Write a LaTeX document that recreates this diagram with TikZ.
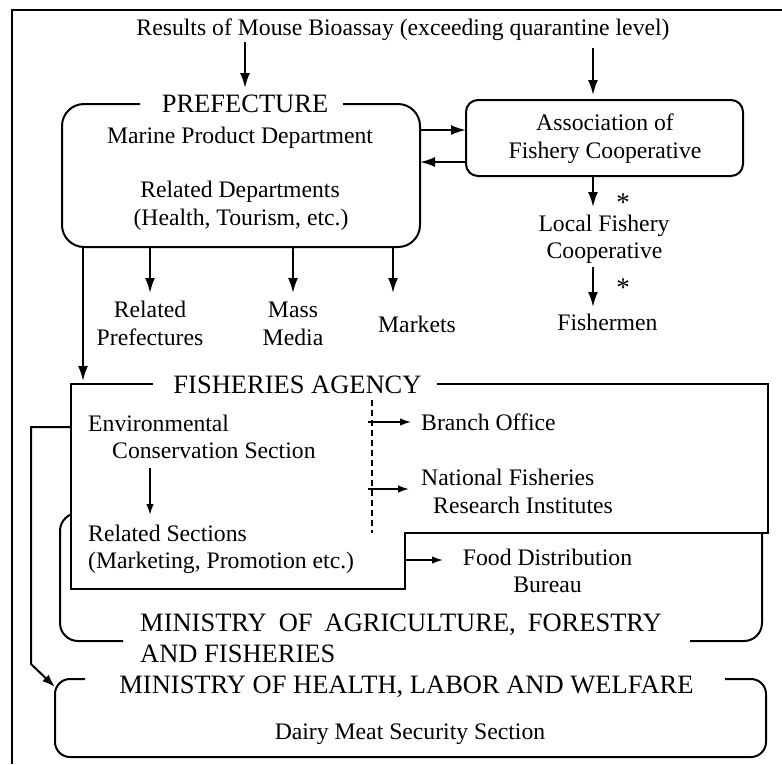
\documentclass[tikz,border=0pt]{standalone}
\usepackage{fontspec}
\setmainfont{Liberation Serif}
\usetikzlibrary{arrows.meta}
\begin{document}
\begin{tikzpicture}[x=1pt,y=-1pt,
  box/.style={line width=2pt},
  frameline/.style={line width=2.6pt},
  arr/.style={line width=2pt,-{Latex[length=15pt,width=10pt]}},
  arrsmall/.style={line width=1.6pt,-{Latex[length=11pt,width=7.5pt]}},
  txt/.style={inner sep=0pt,anchor=base,font=\fontsize{23.7}{28}\selectfont},
  txtl/.style={txt,anchor=base west},
  head/.style={inner sep=0pt,anchor=base,font=\fontsize{26.5}{30}\selectfont},
  headl/.style={head,anchor=base west},
  star/.style={inner sep=0pt,anchor=base,font=\fontsize{27}{30}\selectfont},
]
\useasboundingbox (0,0) rectangle (782,764);
\fill[white] (0,0) rectangle (782,764);

% outer frame
\draw[frameline] (782,10) -- (12,10) -- (12,764);

% source of the alert
\node[txt] (title) at (403,35) {Results of Mouse Bioassay (exceeding quarantine level)};

% prefecture
\draw[box,rounded corners=22pt] (140,104) -- (62,104) -- (62,247) -- (420,247) -- (420,104) -- (343,104);
\node[head] (pref) at (245,112) {PREFECTURE};
\node[txt] (marine) at (240,143) {Marine Product Department};
\node[txt] (reldep) at (240,197) {Related Departments};
\node[txt] (reldepb) at (241,225) {(Health, Tourism, etc.)};

% fishery cooperative association
\node[draw,box,rounded corners=12pt,minimum width=277pt,minimum height=76pt] (assoc) at (604.5,138) {};
\node[txt] (assoca) at (605,130) {Association of};
\node[txt] (assocb) at (605,158) {Fishery Cooperative};
\node[txt] (local) at (604,231) {Local Fishery};
\node[txt] (localb) at (604.5,258) {Cooperative};
\node[txt] (fishermen) at (607.5,330) {Fishermen};
\node[star] (star1) at (623,211) {*};
\node[star] (star2) at (623,296) {*};

% prefecture outlets
\node[txt] (relpref) at (150,317) {Related};
\node[txt] (relprefb) at (150,345) {Prefectures};
\node[txt] (mass) at (293,317) {Mass};
\node[txt] (massb) at (293,345) {Media};
\node[txt] (markets) at (417,332) {Markets};

% ministry of agriculture, forestry and fisheries (behind the agency)
\draw[box,rounded corners=18pt] (123,641) -- (60,641) -- (60,513) -- (762,513) -- (762,641) -- (690,641);
\node[headl] (maff) at (140,631) {MINISTRY\hspace{12pt}OF\hspace{12pt}AGRICULTURE,\hspace{12pt}FORESTRY};
\node[headl] (maffb) at (140,662) {AND FISHERIES};

% fisheries agency
\draw[box,fill=white] (153,384) -- (71,384) -- (71,589) -- (405,589) -- (405,533) -- (768,533) -- (768,384) -- (437,384);
\node[head] (fa) at (297.5,393) {FISHERIES AGENCY};
\node[txtl] (env) at (88,431) {Environmental};
\node[txtl] (envb) at (112,458) {Conservation Section};
\node[txtl] (relsec) at (88,541) {Related Sections};
\node[txtl] (relsecb) at (88,568) {(Marketing, Promotion etc.)};
\node[txtl] (branch) at (421,430) {Branch Office};
\node[txtl] (nfri) at (421,485) {National Fisheries};
\node[txtl] (nfrib) at (433,513) {Research Institutes};
\node[txt] (food) at (547.5,565) {Food Distribution};
\node[txt] (foodb) at (547.5,592) {Bureau};
\draw[line width=1.3pt,dash pattern=on 6pt off 4pt] (372,400) -- (372,533);

% ministry of health, labor and welfare
\draw[box,rounded corners=15pt] (85,679) -- (55,679) -- (55,757) -- (766,757) -- (766,679) -- (725,679);
\node[head] (mhlw) at (406.5,693) {MINISTRY OF HEALTH, LABOR AND WELFARE};
\node[txt] (dairy) at (410,739) {Dairy Meat Security Section};

% connector end points
\coordinate (tA) at (245,42);   \coordinate (pA) at (245,88);
\coordinate (tB) at (593,48);   \coordinate (aB) at (593,95);
\coordinate (pR) at (420,130);  \coordinate (aL) at (466,130);
\coordinate (aL2) at (466,162); \coordinate (pR2) at (420,162);
\coordinate (aS) at (593,176);  \coordinate (lN) at (593,207);
\coordinate (lS) at (593,267);  \coordinate (fN) at (593,307);
\coordinate (p1) at (150,247);  \coordinate (r1) at (150,293);
\coordinate (p2) at (293,247);  \coordinate (r2) at (293,293);
\coordinate (p3) at (393,247);  \coordinate (r3) at (393,293);
\coordinate (p0) at (83,247);   \coordinate (faN) at (83,381);
\coordinate (eS) at (150,468);  \coordinate (rN) at (150,515);
\coordinate (d1) at (368,422);  \coordinate (bW) at (411,422);
\coordinate (d2) at (368,489);  \coordinate (nW) at (409,489);
\coordinate (fE) at (405,560);  \coordinate (foW) at (443,560);
\coordinate (faW) at (71,427);  \coordinate (k1) at (31,427);
\coordinate (k2) at (31,664);   \coordinate (mW) at (55,687);

% connectors
\draw[arr] (tA) -- (pA);
\draw[arr] (tB) -- (aB);
\draw[arr] (pR) -- (aL);
\draw[arr] (aL2) -- (pR2);
\draw[arr] (aS) -- (lN);
\draw[arr] (lS) -- (fN);
\draw[arr] (p1) -- (r1);
\draw[arr] (p2) -- (r2);
\draw[arr] (p3) -- (r3);
\draw[arr] (p0) -- (faN);
\draw[arrsmall] (eS) -- (rN);
\draw[arrsmall] (d1) -- (bW);
\draw[arrsmall] (d2) -- (nW);
\draw[arrsmall] (fE) -- (foW);
\draw[line width=2pt,-{Latex[length=13pt,width=9pt]}] (faW) -- (k1) -- (k2) -- (mW);
\end{tikzpicture}
\end{document}
